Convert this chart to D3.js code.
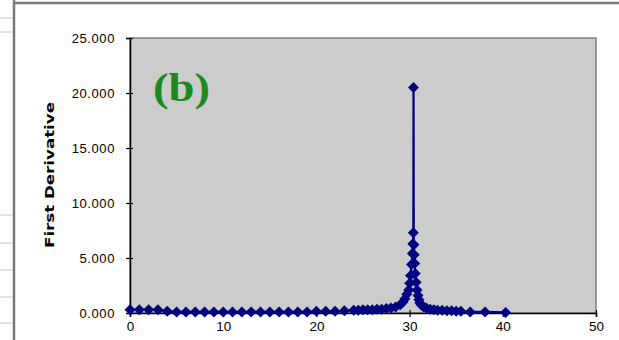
<!DOCTYPE html>
<html>
<head>
<meta charset="utf-8">
<script src="https://cdn.jsdelivr.net/npm/d3@7"></script>
<style>
  body { margin: 0; background: #fff; }
  svg { display: block; }
  .tick text { font-family: "Liberation Sans", Arial, sans-serif; }
</style>
</head>
<body>
<div id="chart"></div>
<script>
// data
var xValues = [0, 1, 2, 3, 4, 5, 6, 7, 8, 9, 10, 11, 12, 13, 14, 15, 16, 17, 18, 19, 20, 21, 22, 23,
  24, 24.5, 25, 25.5, 26, 26.5, 27, 27.5, 28, 28.5,
  29, 29.3, 29.5, 29.7, 29.9, 30, 30.1, 30.2, 30.3, 30.35, 30.4, 30.42,
  30.45, 30.5, 30.55, 30.6, 30.7, 30.8, 30.9, 31, 31.1, 31.3, 31.5, 31.8,
  32.2, 32.6, 33, 33.5, 34, 34.5, 35, 35.5, 36.5, 38.1, 40.3];
var yValues = [0.3, 0.3, 0.3, 0.3, 0.15, 0.1, 0.1, 0.1, 0.1, 0.1, 0.1, 0.1, 0.1, 0.1, 0.1, 0.1, 0.1, 0.1, 0.1, 0.1, 0.15, 0.15, 0.15, 0.2,
  0.25, 0.25, 0.3, 0.3, 0.3, 0.35, 0.35, 0.4, 0.45, 0.55,
  0.75, 1.0, 1.3, 1.7, 2.1, 2.7, 3.4, 4.4, 5.4, 6.3, 7.3, 20.5,
  6.2, 5.3, 4.5, 3.6, 2.8, 2.1, 1.6, 1.2, 0.9, 0.7, 0.55, 0.45,
  0.35, 0.3, 0.25, 0.25, 0.2, 0.2, 0.15, 0.15, 0.1, 0.1, 0.05];
var xTicks = [0, 10, 20, 30, 40, 50];
var yTicks = [0, 5, 10, 15, 20, 25];
var yTitle = "First Derivative";
var panelLabel = "(b)";

var data = xValues.map(function(x, i) { return { x: x, y: yValues[i] }; });

var svgWidth = 619;
var svgHeight = 340;
var plot = { left: 130, top: 38, right: 596, bottom: 313 };

var svg = d3.select("#chart")
  .append("svg")
  .attr("width", svgWidth)
  .attr("height", svgHeight);

// spreadsheet bits around the chart
var gridY = [18, 32, 215, 243, 270, 297, 323];
svg.selectAll("line.grid")
  .data(gridY)
  .enter()
  .append("line")
  .attr("x1", 0).attr("x2", 13)
  .attr("y1", d => d).attr("y2", d => d)
  .attr("stroke", "#c8c8c8");
svg.append("line")
  .attr("x1", 14).attr("x2", 14).attr("y1", 0).attr("y2", svgHeight)
  .attr("stroke", "#7a7a7a").attr("stroke-width", 2.5);
svg.append("line")
  .attr("x1", 14).attr("x2", 619).attr("y1", 3).attr("y2", 3)
  .attr("stroke", "#7a7a7a").attr("stroke-width", 2.5);

var x = d3.scaleLinear().domain([0, 50]).range([plot.left, plot.right]);
var y = d3.scaleLinear().domain([0, 25]).range([plot.bottom, plot.top]);

// plot area
svg.append("rect")
  .attr("x", plot.left).attr("y", plot.top)
  .attr("width", plot.right - plot.left)
  .attr("height", plot.bottom - plot.top)
  .attr("fill", "#cccccc")
  .attr("stroke", "#808080")
  .attr("stroke-width", 1.5);

// axes with crossing ticks
var xAxis = svg.append("g")
  .attr("transform", `translate(0, ${plot.bottom})`)
  .call(d3.axisBottom(x).tickValues(xTicks).tickSize(4).tickFormat(d3.format("d")));
var yAxis = svg.append("g")
  .attr("transform", `translate(${plot.left}, 0)`)
  .call(d3.axisLeft(y).tickValues(yTicks).tickSize(4).tickFormat(d3.format(".3f")));

[xAxis, yAxis].forEach(function(g) {
  g.select(".domain").attr("stroke", "#000").attr("stroke-width", 1.5);
  g.selectAll(".tick line").attr("stroke", "#000").attr("stroke-width", 1.2);
});
xAxis.selectAll(".tick line").attr("y1", -3).attr("y2", 4);
yAxis.selectAll(".tick line").attr("x1", 3).attr("x2", -4);
xAxis.selectAll(".tick text")
  .attr("y", 8)
  .attr("font-size", 13.5)
  .attr("fill", "#000");
yAxis.selectAll(".tick text")
  .attr("x", -15)
  .attr("font-size", 13)
  .attr("letter-spacing", 0.6)
  .attr("fill", "#000");

// series
var line = d3.line().x(d => x(d.x)).y(d => y(d.y));
svg.append("path")
  .datum(data)
  .attr("fill", "none")
  .attr("stroke", "#000080")
  .attr("stroke-width", 2.2)
  .attr("d", line);

var r = 5.5;
svg.selectAll("path.marker")
  .data(data)
  .enter()
  .append("path")
  .attr("class", "marker")
  .attr("d", d => `M${x(d.x)},${y(d.y) - r}L${x(d.x) + r},${y(d.y)}L${x(d.x)},${y(d.y) + r}L${x(d.x) - r},${y(d.y)}Z`)
  .attr("fill", "#000080");

// titles
svg.append("text")
  .attr("transform", `translate(54, 175) rotate(-90)`)
  .attr("text-anchor", "middle")
  .attr("font-family", "'DejaVu Sans', Verdana, sans-serif")
  .attr("font-weight", "bold")
  .attr("font-size", 13)
  .attr("textLength", 146)
  .attr("lengthAdjust", "spacingAndGlyphs")
  .text(yTitle);

svg.append("text")
  .attr("x", 153)
  .attr("y", 101)
  .attr("font-family", "'Liberation Serif', 'Times New Roman', serif")
  .attr("font-weight", "bold")
  .attr("font-size", 41)
  .attr("textLength", 57)
  .attr("lengthAdjust", "spacingAndGlyphs")
  .attr("fill", "#1e8a1e")
  .text(panelLabel);
</script>
</body>
</html>
